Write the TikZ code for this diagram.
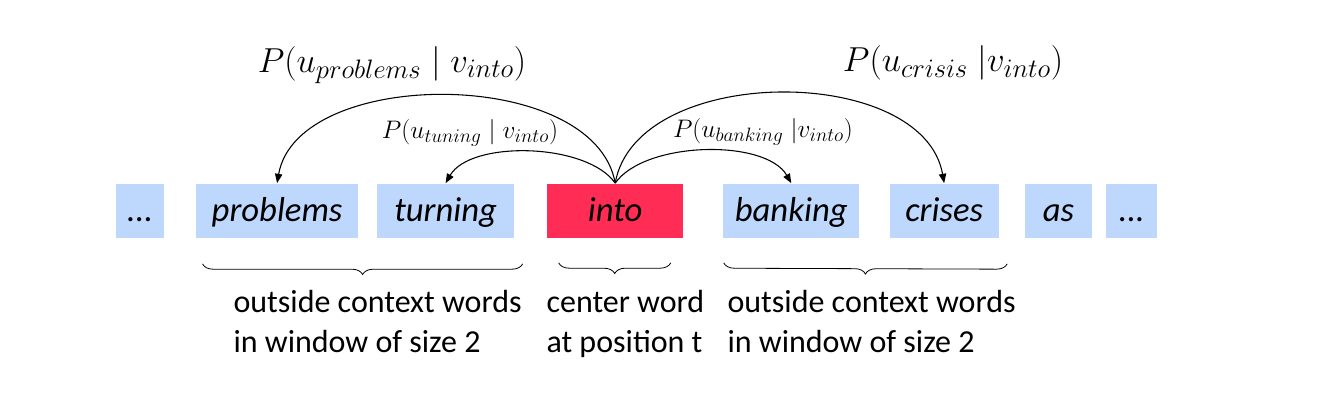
\RequirePackage{fix-cm}
\documentclass[tikz,border=0pt]{standalone}
\usepackage[no-math]{fontspec}
\setmainfont{Carlito}
\usepackage{tikz}
\usetikzlibrary{positioning,calc,arrows.meta,decorations.pathreplacing}
\definecolor{lcword}{HTML}{BDD7FD}
\definecolor{lcctr}{HTML}{FF2D55}
% large subscripts in the arc labels
\DeclareMathSizes{26}{26}{20}{15}
\DeclareMathSizes{19}{19}{14.5}{11}

\begin{document}
\begin{tikzpicture}[%
    x=0.75pt, y=0.75pt,         % one unit is one pixel of the sketch
    >={Triangle[length=7pt,width=5.5pt]},
    every path/.style={line width=0.8pt}]
% -------------------------------------------------
% Box and text styles
\tikzset{
  base/.style={inner sep=0pt, minimum height=41pt, anchor=center,
    text height=20pt, text depth=5pt,
    font={\fontsize{26}{30}\selectfont\itshape}},
  word/.style={base, fill=lcword},
  ctr/.style={base, fill=lcctr},
  lbl/.style={font={\fontsize{26}{30}\selectfont}},
  slbl/.style={font={\fontsize{19}{22}\selectfont}},
  note/.style={anchor=north west, inner sep=0pt, align=left,
    font={\fontsize{24}{30}\selectfont}},
  brc/.style={decorate, decoration={brace, mirror, amplitude=8pt}, line width=0.6pt}
}
\useasboundingbox (0,0) rectangle (1321,401);
% -------------------------------------------------
% The row of words, left to right
\node [word, minimum width=36pt] (dots1) at (140,190) {...};
\node [word, minimum width=121.5pt, right=23.25pt of dots1] (problems) {problems};
\node [word, minimum width=102.75pt, right=13.5pt of problems] (turning) {turning};
\node [ctr, minimum width=102pt, right=24pt of turning] (into) {into};
\node [word, minimum width=102pt, right=29.25pt of into] (banking) {banking};
\node [word, minimum width=81.75pt, right=22pt of banking] (crises) {crises};
\node [word, minimum width=50.25pt, right=19pt of crises] (as) {as};
\node [word, minimum width=38.25pt, right=9.75pt of as] (dots2) {...};

% -------------------------------------------------
% Arcs from the center word, with their labels
\draw [->] (into.north) to[out=100, in=80, looseness=0.9] (problems.north);
\draw [->] (into.north) to[out=125, in=60, looseness=0.75] (turning.north);
\draw [->] (into.north) to[out=55, in=120, looseness=0.75] (banking.north);
\draw [->] (into.north) to[out=80, in=100, looseness=0.95] (crises.north);

\node [lbl] (lprob) at (392,336) {$P\bigl(u_{problems} \mid v_{into}\bigr)$};
\node [slbl] (ltun) at (470,268) {$P\bigl(u_{tuning} \mid v_{into}\bigr)$};
\node [slbl] (lbank) at (763,269) {$P\bigl(u_{banking}\;| v_{into}\bigr)$};
\node [lbl] (lcris) at (953,338) {$P\bigl(u_{crisis}\;| v_{into}\bigr)$};

% -------------------------------------------------
% Braces under the window, and what they mean
\draw [brc] ($(problems.south west)+(7,-25)$) -- ($(turning.south east)+(8,-25)$);
\draw [brc] ($(into.south west)+(12,-24)$) -- ($(into.south east)+(-13,-24)$);
\draw [brc] ($(banking.south west)+(1,-24)$) -- ($(crises.south east)+(8,-25)$);

\node [note] (nleft) at (233,111) {outside context words\\in window of size 2};
\node [note] (nctr) at (546,111) {center word\\at position t};
\node [note] (nright) at (727,111) {outside context words\\in window of size 2};
\end{tikzpicture}
\end{document}
